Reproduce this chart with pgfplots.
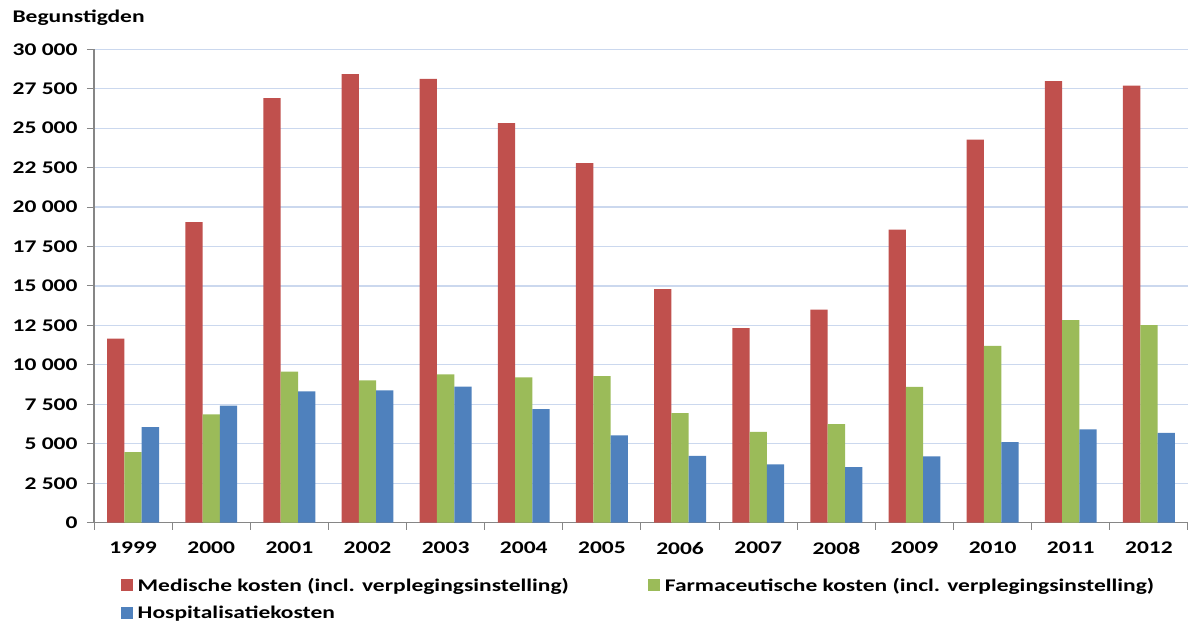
\documentclass[border=0pt]{standalone}
\usepackage{pgfplots}
\pgfplotsset{compat=1.18}
\usepackage{fontspec}
\setmainfont{Carlito}[FakeStretch=1.32]

\definecolor{medred}{HTML}{C0504D}
\definecolor{farmgreen}{HTML}{9BBB59}
\definecolor{hospblue}{HTML}{4F81BD}
\definecolor{gridblue}{RGB}{203,216,238}
\definecolor{axisgrey}{RGB}{134,134,134}

\newcommand{\chartfont}{\fontsize{17.8bp}{21bp}\selectfont\bfseries}

\begin{document}
\begin{tikzpicture}
\path[use as bounding box] (0bp,0bp) rectangle (1188bp,621bp);
\begin{axis}[
    at={(94bp,98.3bp)}, anchor=south west,
    scale only axis,
    width=1094bp, height=473.4bp,
    ybar=0pt, bar width=17.3bp,
    xmin=-0.5, xmax=13.5,
    ymin=0, ymax=30000,
    scaled y ticks=false,
    axis x line*=bottom, axis y line*=left,
    axis line style={draw=axisgrey, line width=1.2bp},
    xtick={0,...,13},
    xticklabels={1999,2000,2001,2002,2003,2004,2005,2006,2007,2008,2009,2010,2011,2012},
    minor xtick={-0.5,0.5,...,13.5},
    every major x tick/.append style={draw=none},
    every minor x tick/.append style={draw=axisgrey, line width=1bp},
    minor tick length=7bp,
    ytick={0,2500,...,30000},
    yticklabels={0,2 500,5 000,7 500,10 000,12 500,15 000,17 500,20 000,22 500,25 000,27 500,30 000},
    every major y tick/.append style={draw=axisgrey, line width=1bp},
    major tick length=7bp,
    tick align=outside,
    ymajorgrids,
    grid style={draw=gridblue, line width=1.2bp},
    x tick label style={font=\chartfont, yshift=-9bp},
    y tick label style={font=\chartfont, xshift=-6bp},
    title={Begunstigden},
    title style={font=\chartfont, at={(axis description cs:-0.0777,1.055)}, anchor=west},
    legend columns=2,
    legend cell align=left,
    legend style={
        at={(axis description cs:0.0215,-0.108)}, anchor=north west,
        draw=none, fill=none, font=\chartfont,
        /tikz/every even column/.append style={column sep=74bp},
        /tikz/every odd column/.append style={column sep=0bp},
        row sep=9bp,
        nodes={inner xsep=5bp},
    },
    legend image code/.code={\fill[#1] (0bp,-6bp) rectangle (12bp,6bp);},
]
\addplot[fill=medred, draw=none] coordinates {
    (0,11660) (1,19040) (2,26900) (3,28420) (4,28130) (5,25320) (6,22790)
    (7,14800) (8,12330) (9,13510) (10,18570) (11,24270) (12,27980) (13,27690)};
\addplot[fill=farmgreen, draw=none] coordinates {
    (0,4470) (1,6870) (2,9570) (3,9020) (4,9400) (5,9210) (6,9290)
    (7,6950) (8,5750) (9,6240) (10,8600) (11,11210) (12,12830) (13,12520)};
\addplot[fill=hospblue, draw=none] coordinates {
    (0,6050) (1,7420) (2,8330) (3,8390) (4,8620) (5,7190) (6,5530)
    (7,4240) (8,3690) (9,3520) (10,4200) (11,5100) (12,5920) (13,5690)};
\legend{Medische kosten (incl. verplegingsinstelling),
        Farmaceutische kosten (incl. verplegingsinstelling),
        Hospitalisatiekosten}
\end{axis}
\end{tikzpicture}
\end{document}
